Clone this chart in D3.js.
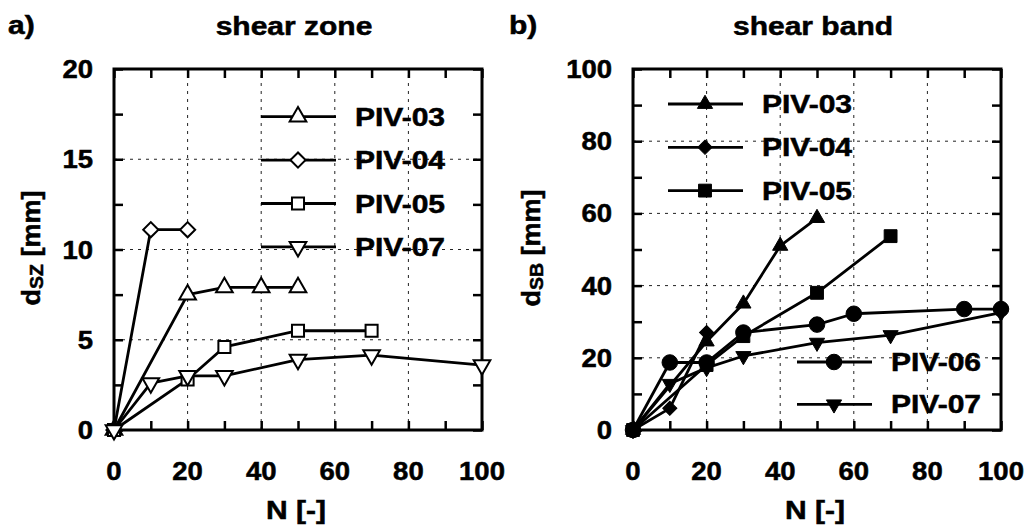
<!DOCTYPE html>
<html>
<head>
<meta charset="utf-8">
<title>Shear zone / shear band</title>
<script src="https://d3js.org/d3.v7.min.js"></script>
<style>
  html, body { margin: 0; padding: 0; background: #fff; }
  svg text {
      font-family: "Liberation Sans", Arial, sans-serif; font-weight: bold; fill: #000;
      stroke: #000; stroke-width: 0.5px; paint-order: stroke;
  }
</style>
</head>
<body>
<svg id="chart" width="1029" height="531"></svg>
<script>
    // tick values
    const xTicks = [0, 20, 40, 60, 80, 100];
    const xMinor = [0, 10, 20, 30, 40, 50, 60, 70, 80, 90, 100];
    const szTicks = [0, 5, 10, 15, 20];
    const szMinor = [0, 2.5, 5, 7.5, 10, 12.5, 15, 17.5, 20];
    const sbTicks = [0, 20, 40, 60, 80, 100];
    const sbMinor = [0, 10, 20, 30, 40, 50, 60, 70, 80, 90, 100];

    // a) shear zone, [N, d_SZ]
    const sz03 = [[0, 0], [20, 7.5], [30, 7.9], [40, 7.9], [50, 7.9]];
    const sz04 = [[0, 0], [10, 11.1], [20, 11.1]];
    const sz05 = [[0, 0], [20, 2.8], [30, 4.6], [50, 5.5], [70, 5.5]];
    const sz07 = [[0, 0], [10, 2.6], [20, 3.0], [30, 3.0], [50, 3.9], [70, 4.15], [100, 3.6]];

    // b) shear band, [N, d_SB]
    const sb03 = [[0, 0], [20, 24.5], [30, 35], [40, 51], [50, 58.7]];
    const sb04 = [[0, 0], [10, 6], [20, 27]];
    const sb05 = [[0, 0], [20, 18], [30, 26], [50, 38], [70, 53.7]];
    const sb06 = [[0, 0], [10, 18.7], [20, 18.7], [30, 27], [50, 29.2], [60, 32.2], [90, 33.5], [100, 33.5]];
    const sb07 = [[0, 0], [10, 12.8], [20, 17.2], [30, 20.5], [50, 24.2], [70, 26.3], [100, 32.5]];

    const svg = d3.select("#chart");

    // text is a bit wider than the font, so stretch it horizontally
    function txt(g, x, y, s, anchor, sx) {
        return g.append("text")
            .attr("transform", `translate(${x},${y}) scale(${sx || 1.2},1)`)
            .attr("text-anchor", anchor || "start")
            .style("font-size", "25px")
            .text(s);
    }

    // marker shapes
    const shapes = {
        triUp:   { type: d3.symbolTriangle, rot: 0 },
        triDown: { type: d3.symbolTriangle, rot: 180 },
        diamond: { type: d3.symbolSquare, rot: 45 },
        square:  { type: d3.symbolSquare, rot: 0 },
        circle:  { type: d3.symbolCircle, rot: 0 }
    };

    function marker(g, cx, cy, shape, size, filled) {
        const s = shapes[shape];
        g.append("path")
            .attr("d", d3.symbol(s.type, size)())
            .attr("transform", `translate(${cx},${cy}) rotate(${s.rot})`)
            .attr("fill", filled ? "#000" : "#fff")
            .attr("stroke", "#000")
            .attr("stroke-width", filled ? 1 : 2);
    }

    function panel(p) {
        const x = d3.scaleLinear().domain([0, 100]).range([p.x0, p.x1]);
        const y = d3.scaleLinear().domain([0, p.yMax]).range([430, 69]);
        const g = svg.append("g");

        // dashed grid at the major ticks
        g.append("g").selectAll("line").data(xTicks.slice(1, -1)).join("line")
            .attr("x1", d => x(d)).attr("x2", d => x(d))
            .attr("y1", y(0)).attr("y2", y(p.yMax));
        g.append("g").selectAll("line").data(p.yTicks.slice(1, -1)).join("line")
            .attr("x1", x(0)).attr("x2", x(100))
            .attr("y1", d => y(d)).attr("y2", d => y(d));
        g.selectAll("line")
            .attr("stroke", "#222").attr("stroke-width", 1).attr("stroke-dasharray", "3,5");

        // inward ticks on all four sides
        const tk = 9;
        const axes = [
            g.append("g").attr("transform", `translate(0,${y(0)})`)
                .call(d3.axisBottom(x).tickValues(xMinor).tickSize(-tk).tickFormat("")),
            g.append("g").attr("transform", `translate(0,${y(p.yMax)})`)
                .call(d3.axisTop(x).tickValues(xMinor).tickSize(-tk).tickFormat("")),
            g.append("g").attr("transform", `translate(${x(0)},0)`)
                .call(d3.axisLeft(y).tickValues(p.yMinor).tickSize(-tk).tickFormat("")),
            g.append("g").attr("transform", `translate(${x(100)},0)`)
                .call(d3.axisRight(y).tickValues(p.yMinor).tickSize(-tk).tickFormat(""))
        ];
        axes.forEach(a => {
            a.select(".domain").remove();
            a.selectAll(".tick line").attr("stroke", "#000").attr("stroke-width", 2.5);
        });

        g.append("rect")
            .attr("x", x(0)).attr("y", y(p.yMax))
            .attr("width", x(100) - x(0)).attr("height", y(0) - y(p.yMax))
            .attr("fill", "none").attr("stroke", "#000").attr("stroke-width", 3);

        // tick labels
        xTicks.forEach(v => txt(g, x(v), 480, v, "middle", 1.1));
        p.yTicks.forEach(v => txt(g, x(0) - 21, y(v) + 9, v, "end", 1.1));

        // titles and axis labels
        txt(g, p.tag[0], 34, p.tag[1]);
        txt(g, (p.x0 + p.x1) / 2 - 4, 35, p.title, "middle");
        txt(g, (p.x0 + p.x1) / 2 - 2, 519, "N [-]", "middle");

        const yl = g.append("text")
            .attr("transform", `translate(${p.yLabelX},248) rotate(-90) scale(1.08,1)`)
            .attr("text-anchor", "middle")
            .style("font-size", "25px");
        yl.append("tspan").text("d");
        yl.append("tspan").attr("dy", 3).style("font-size", "18px").text(p.sub);
        yl.append("tspan").attr("dy", -3).text(" [mm]");

        // series
        const line = d3.line().x(d => x(d[0])).y(d => y(d[1]));
        p.series.forEach(s => {
            g.append("path").datum(s.data)
                .attr("d", line)
                .attr("fill", "none").attr("stroke", "#000")
                .attr("stroke-width", 2.8).attr("stroke-linejoin", "round");
        });
        p.series.forEach(s => {
            s.data.forEach(d => marker(g, x(d[0]), y(d[1]), s.shape, s.size, p.filled));
        });

        // legend boxes
        p.legends.forEach(L => {
            L.names.forEach((name, i) => {
                const s = p.series.find(t => t.name === name);
                const ly = L.y + i * L.step;
                g.append("line")
                    .attr("x1", L.x0).attr("x2", L.x0 + 75)
                    .attr("y1", ly).attr("y2", ly)
                    .attr("stroke", "#000").attr("stroke-width", 2.8);
                marker(g, L.x0 + 37, ly, s.shape, s.size, p.filled);
                txt(g, L.x0 + 94, ly + 9, name);
            });
        });
    }

    panel({
        x0: 114, x1: 482, yMax: 20, yTicks: szTicks, yMinor: szMinor,
        tag: [8, "a)"], title: "shear zone", sub: "SZ", yLabelX: 40, filled: false,
        series: [
            { name: "PIV-03", data: sz03, shape: "triUp", size: 120 },
            { name: "PIV-04", data: sz04, shape: "diamond", size: 115 },
            { name: "PIV-05", data: sz05, shape: "square", size: 145 },
            { name: "PIV-07", data: sz07, shape: "triDown", size: 120 }
        ],
        legends: [{ names: ["PIV-03", "PIV-04", "PIV-05", "PIV-07"], x0: 261, y: 116.7, step: 43.4 }]
    });

    panel({
        x0: 633, x1: 1001, yMax: 100, yTicks: sbTicks, yMinor: sbMinor,
        tag: [509, "b)"], title: "shear band", sub: "SB", yLabelX: 540, filled: true,
        series: [
            { name: "PIV-03", data: sb03, shape: "triUp", size: 100 },
            { name: "PIV-04", data: sb04, shape: "diamond", size: 100 },
            { name: "PIV-05", data: sb05, shape: "square", size: 165 },
            { name: "PIV-06", data: sb06, shape: "circle", size: 190 },
            { name: "PIV-07", data: sb07, shape: "triDown", size: 100 }
        ],
        legends: [
            { names: ["PIV-03", "PIV-04", "PIV-05"], x0: 668, y: 104, step: 43.3 },
            { names: ["PIV-06", "PIV-07"], x0: 797, y: 362, step: 42.3 }
        ]
    });
</script>
</body>
</html>
